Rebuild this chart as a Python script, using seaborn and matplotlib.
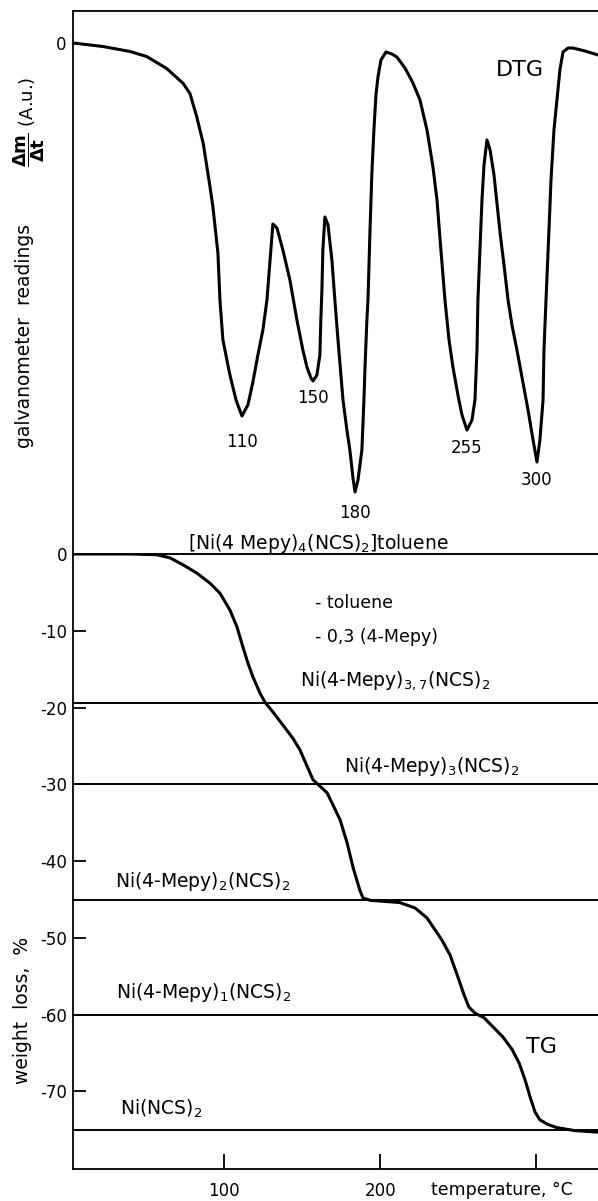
import matplotlib
matplotlib.use("Agg")
import matplotlib.pyplot as plt
import numpy as np
import pandas as pd
import seaborn as sns

# ---------------- data ----------------
# DTG curve (temperature in degC, galvanometer reading in arbitrary units)
dtg_temp = [3.3, 22.5, 39.8, 50.5, 63.3, 73.9, 78.2, 82.5, 86.7, 91.0, 92.9, 96.1, 97.4, 99.3,
            103.8, 107.7, 111.5, 115.3, 118.5, 121.7, 124.9, 127.5, 129.4, 131.3, 133.9,
            137.7, 142.2, 146.7, 150.5, 153.1, 155.7, 157.0, 159.5, 161.4, 162.0, 162.7,
            163.3, 164.6, 166.6, 169.1, 171.0, 173.0, 176.2, 178.7, 180.6, 182.6, 183.9,
            185.8, 188.3, 189.6, 190.3, 191.5, 192.2, 193.5, 194.7, 196.0, 197.3, 198.6,
            200.5, 203.7, 207.5, 210.7, 215.9, 221.0, 225.5, 230.0, 233.8, 236.4, 238.9,
            241.5, 244.1, 246.6, 249.8, 252.4, 255.6, 258.8, 260.7, 262.0, 262.6, 263.9,
            265.2, 266.5, 268.4, 270.4, 272.9, 276.8, 279.3, 281.9, 284.4, 287.6, 291.5,
            294.7, 297.9, 300.4, 302.3, 304.3, 304.9, 306.2, 308.1, 309.4, 311.3, 313.2,
            315.1, 317.1, 320.3, 323.5, 331.2, 339.5]
dtg_signal = [0.0, -0.7, -1.7, -2.7, -5.1, -8.1, -10.1, -14.7, -20.1, -28.7, -32.8, -42.0, -51.4, -59.4,
              -66.4, -71.4, -74.6, -72.4, -67.8, -62.4, -57.4, -51.4, -43.8, -36.2, -37.0,
              -41.4, -47.4, -55.4, -61.4, -64.8, -67.0, -67.6, -66.4, -62.4, -55.4, -49.4,
              -41.4, -34.8, -36.4, -43.4, -51.4, -59.4, -71.4, -77.4, -81.4, -87.0, -89.8,
              -87.4, -81.4, -71.4, -64.8, -55.4, -51.4, -37.4, -26.0, -17.4, -10.4, -6.8,
              -3.4, -1.8, -2.2, -2.8, -5.0, -8.0, -11.4, -17.4, -24.8, -31.4, -41.4,
              -51.4, -59.4, -64.8, -70.4, -74.4, -77.4, -75.4, -71.4, -61.4, -51.4, -41.4,
              -31.4, -24.4, -19.4, -21.4, -26.4, -38.0, -44.4, -51.4, -56.4, -61.4, -68.0,
              -73.4, -79.4, -83.8, -79.4, -71.4, -61.4, -51.4, -37.4, -27.4, -17.4, -11.4,
              -5.4, -1.8, -1.0, -1.0, -1.6, -2.4]

# DTG peak labels and the temperatures of the minima they mark
dtg_peak_labels = ["110", "150", "180", "255", "300"]
dtg_peak_temp = [111.5, 157.0, 183.9, 255.6, 300.4]

# TG curve (temperature in degC, weight loss in %)
tg_temp = [3.3, 40.0, 57.1, 65.4, 73.7, 82.7, 91.0, 97.4, 103.8, 108.3, 112.1, 115.3,
           118.5, 123.0, 126.2, 131.4, 137.8, 144.1, 148.6, 157.0, 166.0, 174.3, 178.8,
           182.6, 187.0, 189.0, 193.5, 212.6, 222.3, 230.0, 239.6, 244.7, 249.8, 253.7,
           256.8, 260.7, 266.5, 272.3, 278.6, 284.4, 289.0, 292.8, 296.0, 299.2, 302.3,
           307.4, 313.0, 324.6, 339.5]
tg_loss = [0.0, 0.0, -0.1, -0.5, -1.4, -2.5, -3.8, -5.1, -7.3, -9.5, -12.1, -14.2,
           -16.0, -18.1, -19.3, -20.6, -22.3, -24.0, -25.5, -29.4, -31.1, -34.6, -37.6,
           -40.8, -43.8, -44.8, -45.1, -45.4, -46.1, -47.4, -50.3, -52.2, -55.1, -57.4,
           -59.0, -59.8, -60.4, -61.6, -62.9, -64.5, -66.3, -68.5, -70.7, -72.7, -73.7,
           -74.3, -74.7, -75.1, -75.3]

# stoichiometric levels (weight loss %) and their compound names
level_loss = [0, -19.4, -30, -45, -60, -75]
level_labels = [r"[Ni(4 Mepy)$_4$(NCS)$_2$]toluene",
                r"Ni(4-Mepy)$_{3,7}$(NCS)$_2$",
                r"Ni(4-Mepy)$_3$(NCS)$_2$",
                r"Ni(4-Mepy)$_2$(NCS)$_2$",
                r"Ni(4-Mepy)$_1$(NCS)$_2$",
                r"Ni(NCS)$_2$"]
step_notes = ["- toluene", "- 0,3 (4-Mepy)"]

x_tick_values = [100, 200, 300]
x_tick_labels = ["100", "200", ""]
tg_tick_values = [0, -10, -20, -30, -40, -50, -60, -70]
tg_tick_labels = ["0", "-10", "-20", "-30", "-40", "-50", "-60", "-70"]

# ---------------- styling ----------------
sns.set_style("ticks")
plt.rcParams["font.family"] = ["DejaVu Sans"]
plt.rcParams["mathtext.fontset"] = "dejavusans"
for key in ("text.color", "axes.labelcolor", "xtick.color", "ytick.color", "axes.edgecolor"):
    plt.rcParams[key] = "black"

W, H = 598, 1201
fig = plt.figure(figsize=(W / 100, H / 100), dpi=100)

left = 73 / W
ax_top = fig.add_axes([left, 1 - 554 / H, 1.0 - left, (554 - 11) / H])
ax_bot = fig.add_axes([left, 1 - 1169 / H, 1.0 - left, (1169 - 554) / H])

xlim = (3.3, 339.5)
lw_curve = 2.2
lw_level = 1.4

# ---- DTG panel ----
dtg_df = pd.DataFrame({"T": dtg_temp, "s": dtg_signal})
sns.lineplot(data=dtg_df, x="T", y="s", ax=ax_top, color="black", lw=lw_curve,
             estimator=None, sort=False)
ax_top.set_xlim(*xlim)
ax_top.set_ylim(-102.2, 6.4)
for sp in ("right", "bottom"):
    ax_top.spines[sp].set_visible(False)
for sp in ("left", "top"):
    ax_top.spines[sp].set_linewidth(1.3)
ax_top.set_xticks([])
ax_top.set_yticks([0])
ax_top.set_yticklabels(["0"])
ax_top.tick_params(axis="y", length=0, labelsize=12, pad=5)
ax_top.set_xlabel("")
ax_top.set_ylabel("")

label_off = [19, 12, 15, 13, 13]
for lab, t, off in zip(dtg_peak_labels, dtg_peak_temp, label_off):
    s = dtg_signal[dtg_temp.index(t)]
    ax_top.annotate(lab, xy=(t, s), xytext=(0, -off), textcoords="offset points",
                    ha="center", va="center", fontsize=12)
ax_top.text(289.5, -5.4, "DTG", ha="center", va="center", fontsize=16)

# ---- TG panel ----
tg_df = pd.DataFrame({"T": tg_temp, "w": tg_loss})
sns.lineplot(data=tg_df, x="T", y="w", ax=ax_bot, color="black", lw=lw_curve,
             estimator=None, sort=False)
for lv in level_loss:
    ax_bot.axhline(lv, color="black", lw=lw_level, clip_on=False, zorder=1)
ax_bot.set_xlim(*xlim)
ax_bot.set_ylim(-80.1, 0)
for sp in ("right", "top"):
    ax_bot.spines[sp].set_visible(False)
for sp in ("left", "bottom"):
    ax_bot.spines[sp].set_linewidth(1.3)
ax_bot.set_xticks(x_tick_values)
ax_bot.set_xticklabels(x_tick_labels)
ax_bot.set_yticks(tg_tick_values)
ax_bot.set_yticklabels(tg_tick_labels)
ax_bot.tick_params(axis="x", direction="in", length=11, width=1.3, labelsize=12, pad=9)
ax_bot.tick_params(axis="y", direction="in", length=9, width=1.3, labelsize=12, pad=4)
ax_bot.set_xlabel("")
ax_bot.set_ylabel("")

# compound labels (left x, baseline y)
label_pos = [(76.9, 0.6), (148.6, -17.2), (176.8, -28.4), (30.2, -43.4), (30.8, -57.8), (33.4, -73.0)]
for lab, (tx, ty) in zip(level_labels, label_pos):
    ax_bot.text(tx, ty, lab, ha="left", va="baseline", fontsize=13.5)
ax_bot.text(158.2, -6.4, step_notes[0], ha="left", va="center", fontsize=12.5)
ax_bot.text(158.2, -10.8, step_notes[1], ha="left", va="center", fontsize=12.5)
ax_bot.text(303, -64.2, "TG", ha="center", va="center", fontsize=16)

# axis titles
fig.text(431 / W, 1 - 1190 / H, "temperature, °C", ha="left", va="center", fontsize=12.5)
fig.text(25 / W, 1 - 336 / H, "galvanometer  readings", rotation=90,
         ha="center", va="center", fontsize=13.5)
fig.text(29 / W, 1 - 122 / H, r"$\dfrac{\mathbf{\Delta m}}{\mathbf{\Delta t}}$ (A.u.)", rotation=90,
         ha="center", va="center", fontsize=13)
fig.text(22 / W, 1 - 1010 / H, "weight  loss,  %", rotation=90,
         ha="center", va="center", fontsize=13.5)

fig.savefig("out.png", dpi=100)
